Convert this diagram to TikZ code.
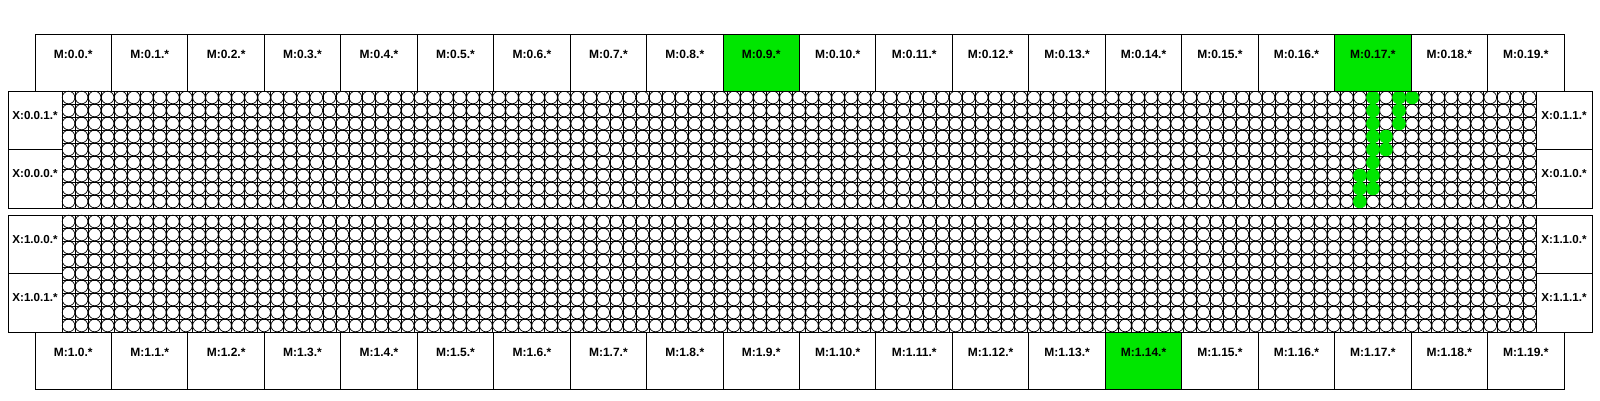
\documentclass[tikz,border=0pt]{standalone}
\usepackage{fontspec}
\setmainfont{Liberation Sans}
\usepackage{tikz}
\usetikzlibrary{positioning}

\definecolor{hotgreen}{RGB}{0,230,0}

\tikzset{
  mbox/.style={draw, line width=1pt, minimum width=76.45pt, inner sep=0pt, outer sep=0pt,
    text height=24.5pt, text depth=32.5pt, font=\bfseries\fontsize{12}{14}\selectfont},
  xbox/.style={draw, line width=1pt, inner sep=0pt, outer sep=0pt,
    text height=28pt, text depth=30.5pt, font=\bfseries\fontsize{11.6}{14}\selectfont},
  cell/.style={line width=0.7pt},
  hot/.style={fill=hotgreen, draw=none},
}

\begin{document}
\begin{tikzpicture}[x=1pt, y=-1pt]
\useasboundingbox (0,0) rectangle (1600,400);

% Circle grids of the two blocks
\foreach \y in {91,215} {
  \foreach \i in {0,...,113} \draw[cell] (62+\i*13.044,\y) -- ++(0,117);
  \foreach \j in {0,...,9} \draw[cell] (62,\y+\j*13) -- (1536,\y+\j*13);
  \foreach \i in {0,...,112} \foreach \j in {0,...,8}
    \draw[cell] (68.52+\i*13.044,\y+6.5+\j*13) circle[radius=6.3pt];
}

% Used cells
\foreach \i/\j in {100/0,102/0,103/0,100/1,102/1,100/2,102/2,100/3,101/3,
                   100/4,101/4,100/5,99/6,100/6,99/7,100/7,99/8}
  \fill[hot] (68.52+\i*13.044,97.5+\j*13) circle[radius=6.8pt];

% Module rows
\foreach \r/\y in {0/34,1/332} {
  \node[mbox, anchor=north west] (m\r-0) at (35,\y) {M:\r.0.*};
  \foreach \i in {1,...,19} {
    \pgfmathtruncatemacro\prev{\i-1}
    \def\boxfill{white}
    \ifnum\r=0 \ifnum\i=9 \def\boxfill{hotgreen}\fi \ifnum\i=17 \def\boxfill{hotgreen}\fi \fi
    \ifnum\r=1 \ifnum\i=14 \def\boxfill{hotgreen}\fi \fi
    \node[mbox, fill=\boxfill, right=0pt of m\r-\prev] (m\r-\i) {M:\r.\i.*};
  }
}

% Side boxes
\node[xbox, minimum width=54pt, anchor=north west] (x0-0-1) at (8,91) {X:0.0.1.*};
\node[xbox, minimum width=54pt, below=0pt of x0-0-1] (x0-0-0) {X:0.0.0.*};
\node[xbox, minimum width=56pt, anchor=north west] (x0-1-1) at (1536,91) {X:0.1.1.*};
\node[xbox, minimum width=56pt, below=0pt of x0-1-1] (x0-1-0) {X:0.1.0.*};
\node[xbox, minimum width=54pt, anchor=north west] (x1-0-0) at (8,215) {X:1.0.0.*};
\node[xbox, minimum width=54pt, below=0pt of x1-0-0] (x1-0-1) {X:1.0.1.*};
\node[xbox, minimum width=56pt, anchor=north west] (x1-1-0) at (1536,215) {X:1.1.0.*};
\node[xbox, minimum width=56pt, below=0pt of x1-1-0] (x1-1-1) {X:1.1.1.*};

\end{tikzpicture}
\end{document}
